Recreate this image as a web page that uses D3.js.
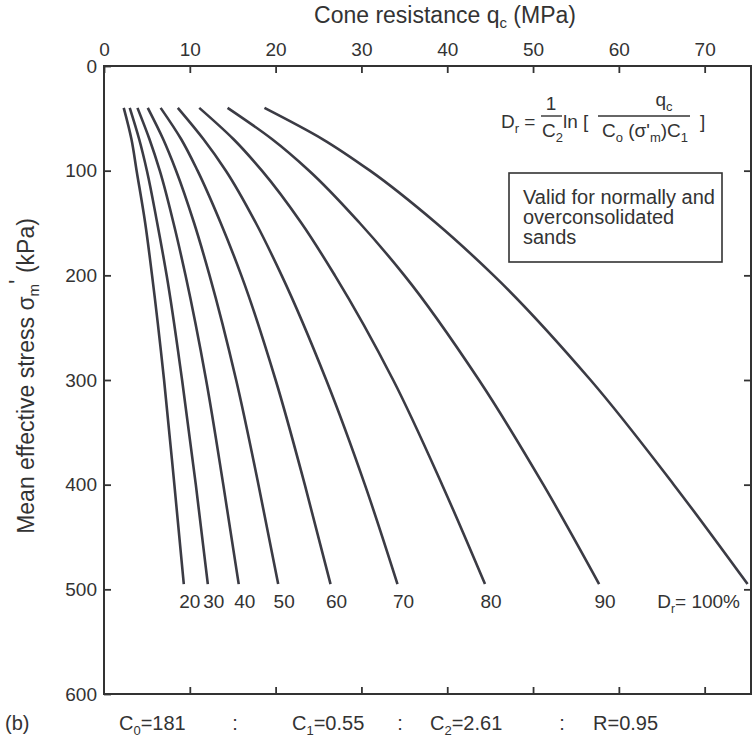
<!DOCTYPE html>
<html>
<head>
<meta charset="utf-8">
<script src="https://cdn.jsdelivr.net/npm/d3@7"></script>
<style>
  body { margin: 0; background: #fff; }
  svg text { font-family: "Liberation Sans", Arial, sans-serif; fill: #333; }
</style>
</head>
<body>
<svg id="chart" width="756" height="740"></svg>
<script>
// mean effective stress levels (kPa) where each curve was read
var sigma = [40, 70, 100, 150, 200, 300, 400, 495];

// cone resistance qc (MPa)
var qcDr20  = [2.3, 3.2, 3.8, 4.8, 5.6, 7.0, 8.2, 9.3];
var qcDr30  = [3.0, 4.1, 5.0, 6.2, 7.3, 9.1, 10.7, 12.1];
var qcDr40  = [3.9, 5.3, 6.5, 8.1, 9.5, 11.9, 13.9, 15.7];
var qcDr50  = [5.1, 6.9, 8.4, 10.5, 12.3, 15.4, 18.0, 20.3];
var qcDr60  = [6.6, 9.0, 10.9, 13.6, 16.0, 20.0, 23.4, 26.4];
var qcDr70  = [8.6, 11.6, 14.2, 17.7, 20.7, 25.9, 30.4, 34.2];
var qcDr80  = [11.1, 15.1, 18.4, 23.0, 26.9, 33.7, 39.4, 44.4];
var qcDr90  = [14.4, 19.6, 23.9, 29.8, 35.0, 43.7, 51.2, 57.7];
var qcDr100 = [18.7, 25.5, 31.0, 38.7, 45.4, 56.7, 66.4, 75.0];

var drLabels = ["20", "30", "40", "50", "60", "70", "80", "90", "100%"];
var xTicks = [0, 10, 20, 30, 40, 50, 60, 70];
var yTicks = [0, 100, 200, 300, 400, 500, 600];

var series = [qcDr20, qcDr30, qcDr40, qcDr50, qcDr60, qcDr70, qcDr80, qcDr90, qcDr100];

var LEFT = 104, RIGHT = 751, TOP = 66, BOTTOM = 694;
var INK = "#333";
var LINE = "#3b3b44";

var svg = d3.select("#chart");

var x = d3.scaleLinear().domain([0, 75.4]).range([LEFT, RIGHT]);
var y = d3.scaleLinear().domain([0, 600]).range([TOP, BOTTOM]);

svg.append("defs").append("clipPath").attr("id", "plot")
  .append("rect")
  .attr("x", LEFT).attr("y", TOP)
  .attr("width", RIGHT - LEFT).attr("height", BOTTOM - TOP);

// axes, ticks pointing inwards
var axTop = svg.append("g").attr("transform", "translate(0," + TOP + ")")
  .call(d3.axisTop(x).tickValues(xTicks).tickSize(-7).tickPadding(10));
var axBottom = svg.append("g").attr("transform", "translate(0," + BOTTOM + ")")
  .call(d3.axisBottom(x).tickValues(xTicks.slice(1)).tickSize(-7).tickFormat(""));
var axLeft = svg.append("g").attr("transform", "translate(" + LEFT + ",0)")
  .call(d3.axisLeft(y).tickValues(yTicks).tickSize(-7).tickPadding(7));
var axRight = svg.append("g").attr("transform", "translate(" + RIGHT + ",0)")
  .call(d3.axisRight(y).tickValues(yTicks.slice(1, 6)).tickSize(-7).tickFormat(""));

[axTop, axBottom, axLeft, axRight].forEach(function(g){
  g.select(".domain").remove();
  g.selectAll(".tick line").attr("stroke", INK).attr("stroke-width", 1.8);
  g.selectAll(".tick text")
    .style("font-family", "Liberation Sans, Arial, sans-serif")
    .attr("font-size", 19).attr("fill", INK);
});

svg.append("rect")
  .attr("x", LEFT).attr("y", TOP)
  .attr("width", RIGHT - LEFT).attr("height", BOTTOM - TOP)
  .attr("fill", "none").attr("stroke", INK).attr("stroke-width", 2);

// Dr curves
var line = d3.line()
  .x(function(d){ return x(d[0]); })
  .y(function(d){ return y(d[1]); })
  .curve(d3.curveMonotoneY);

svg.append("g").attr("clip-path", "url(#plot)")
  .selectAll("path").data(series).enter().append("path")
  .attr("d", function(s){ return line(s.map(function(q, i){ return [q, sigma[i]]; })); })
  .attr("fill", "none")
  .attr("stroke", LINE)
  .attr("stroke-width", 2.6);

// curve labels under the ends
var labelY = y(sigma[sigma.length - 1]) + 24;
svg.selectAll("text.dr").data(series.slice(0, 8)).enter().append("text")
  .attr("class", "dr")
  .attr("x", function(s){ return x(s[s.length - 1]) + 6; })
  .attr("y", labelY)
  .attr("text-anchor", "middle")
  .attr("font-size", 19)
  .text(function(s, i){ return drLabels[i]; });

var last = svg.append("text")
  .attr("x", 740).attr("y", labelY)
  .attr("text-anchor", "end")
  .attr("font-size", 19);
last.append("tspan").text("D");
last.append("tspan").attr("font-size", 12).attr("dy", 5).text("r");
last.append("tspan").attr("dy", -5).text("= " + drLabels[8]);

// axis titles
var xt = svg.append("text")
  .attr("x", 445).attr("y", 23)
  .attr("text-anchor", "middle")
  .attr("font-size", 23);
xt.append("tspan").text("Cone resistance q");
xt.append("tspan").attr("font-size", 15).attr("dy", 5).text("c");
xt.append("tspan").attr("dy", -5).text(" (MPa)");

var yt = svg.append("text")
  .attr("transform", "translate(34,376) rotate(-90)")
  .attr("text-anchor", "middle")
  .attr("font-size", 23);
yt.append("tspan").text("Mean effective stress \u03c3");
yt.append("tspan").attr("font-size", 15).attr("dy", 5).text("m");
yt.append("tspan").attr("dy", -13).text("'");
yt.append("tspan").attr("dy", 8).text(" (kPa)");

// formula
var f = svg.append("g");
function ftext(xp, yp, parts, anchor){
  var t = f.append("text").attr("x", xp).attr("y", yp).attr("font-size", 19)
    .attr("text-anchor", anchor || "start");
  var shift = 0;
  parts.forEach(function(p){
    var s = p[1] ? 5 : 0;
    t.append("tspan").attr("font-size", p[1] ? 13 : 19).attr("dy", s - shift).text(p[0]);
    shift = s;
  });
}
ftext(501, 128, [["D"], ["r", 1], [" ="]]);
ftext(551, 110, [["1"]], "middle");
f.append("line").attr("x1", 541).attr("x2", 562).attr("y1", 116).attr("y2", 116)
  .attr("stroke", INK).attr("stroke-width", 1.4);
ftext(542, 137, [["C"], ["2", 1]]);
ftext(563, 128, [["ln  ["]]);
ftext(664, 106, [["q"], ["c", 1]], "middle");
f.append("line").attr("x1", 598).attr("x2", 690).attr("y1", 116).attr("y2", 116)
  .attr("stroke", INK).attr("stroke-width", 1.4);
ftext(645, 137, [["C"], ["o", 1], [" (\u03c3'"], ["m", 1], [")C"], ["1", 1]], "middle");
ftext(700, 128, [["]"]]);

// note box
svg.append("rect")
  .attr("x", 509).attr("y", 173).attr("width", 213).attr("height", 89)
  .attr("fill", "none").attr("stroke", INK).attr("stroke-width", 1.6);
["Valid for normally and", "overconsolidated", "sands"].forEach(function(t, i){
  svg.append("text").attr("x", 523).attr("y", 204 + i * 20)
    .attr("font-size", 20).text(t);
});

// fit constants under the chart
svg.append("text").attr("x", 5).attr("y", 730).attr("font-size", 20).text("(b)");
function constant(xp, base, sub, rest){
  var t = svg.append("text").attr("x", xp).attr("y", 730).attr("font-size", 20);
  t.append("tspan").text(base);
  if (sub) t.append("tspan").attr("font-size", 13).attr("dy", 5).text(sub);
  t.append("tspan").attr("dy", sub ? -5 : 0).text(rest);
}
constant(119, "C", "0", "=181");
constant(292, "C", "1", "=0.55");
constant(430, "C", "2", "=2.61");
constant(593, "R", null, "=0.95");
[235, 400, 562].forEach(function(xp){
  svg.append("text").attr("x", xp).attr("y", 730).attr("font-size", 20)
    .attr("text-anchor", "middle").text(":");
});
</script>
</body>
</html>
